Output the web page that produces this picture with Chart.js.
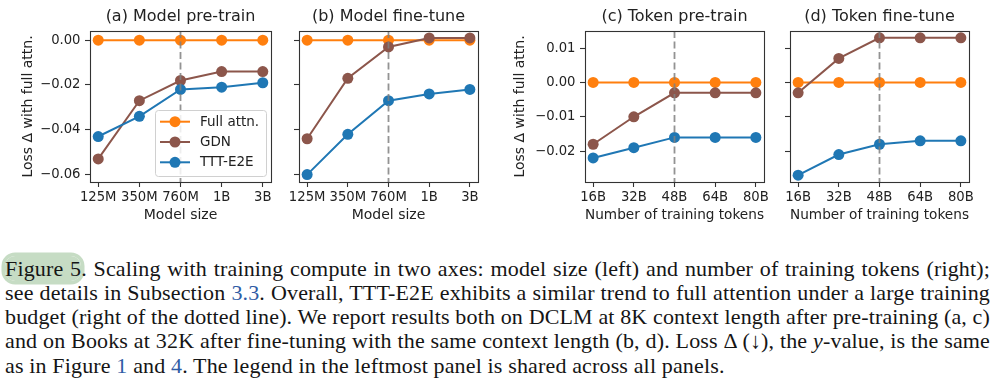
<!DOCTYPE html>
<html><head><meta charset="utf-8">
<script src="https://cdn.jsdelivr.net/npm/chart.js@4.4.1/dist/chart.umd.min.js"></script>
<style>
html,body{margin:0;padding:0;background:#fff;}
body{width:999px;height:381px;position:relative;overflow:hidden;}
canvas{position:absolute;top:0;}
#caption{position:absolute;left:5px;top:256.5px;width:985px;font-family:"Liberation Serif","Times New Roman",serif;font-size:22px;letter-spacing:0.15px;line-height:24.3px;color:#151515;}
.ln{white-space:nowrap;}
.hl{background:#c6dcc4;border-radius:10px;box-shadow:0 0 0 3.5px #c6dcc4;}
.lk{color:#2f5ca5;}
</style></head><body>
<canvas id="ca" width="285" height="230" style="left:0px"></canvas>
<canvas id="cb" width="205" height="230" style="left:280px"></canvas>
<canvas id="cc" width="275" height="230" style="left:500px"></canvas>
<canvas id="cd" width="215" height="230" style="left:770px"></canvas>
<div id="caption">
<div class="ln j"><span><span class="hl">Figure 5</span>. Scaling with training compute in two axes: model size (left) and number of training tokens (right);</span></div>
<div class="ln j"><span>see details in Subsection <span class="lk">3.3</span>. Overall, TTT-E2E exhibits a similar trend to full attention under a large training</span></div>
<div class="ln j"><span>budget (right of the dotted line). We report results both on DCLM at 8K context length after pre-training (a, c)</span></div>
<div class="ln j"><span>and on Books at 32K after fine-tuning with the same context length (b, d). Loss Δ (↓), the <i>y</i>-value, is the same</span></div>
<div class="ln"><span>as in Figure <span class="lk">1</span> and <span class="lk">4</span>. The legend in the leftmost panel is shared across all panels.</span></div>
</div>
<script>
// ---- data ----
const modelSizes = ['125M','350M','760M','1B','3B'];
const tokenCounts = ['16B','32B','48B','64B','80B'];
const seriesNames = ['Full attn.','GDN','TTT-E2E'];

const modelPretrainFull = [0, 0, 0, 0, 0];
const modelPretrainGDN  = [-0.053, -0.027, -0.018, -0.014, -0.014];
const modelPretrainTTT  = [-0.043, -0.034, -0.022, -0.021, -0.019];

const modelFinetuneFull = [0, 0, 0, 0, 0];
const modelFinetuneGDN  = [-0.044, -0.017, -0.003, 0.001, 0.001];
const modelFinetuneTTT  = [-0.060, -0.042, -0.027, -0.024, -0.022];

const tokenPretrainFull = [0, 0, 0, 0, 0];
const tokenPretrainGDN  = [-0.018, -0.010, -0.003, -0.003, -0.003];
const tokenPretrainTTT  = [-0.022, -0.019, -0.016, -0.016, -0.016];

const tokenFinetuneFull = [0, 0, 0, 0, 0];
const tokenFinetuneGDN  = [-0.003, 0.007, 0.013, 0.013, 0.013];
const tokenFinetuneTTT  = [-0.027, -0.021, -0.018, -0.017, -0.017];

const modelYTicks = [-0.06, -0.04, -0.02, 0.00];
const tokenYTicks = [-0.02, -0.01, 0.00, 0.01];
const modelYRange = [-0.0633, 0.0041];
const tokenYRange = [-0.029, 0.015];
const dividerIndex = 2;

// ---- styling ----
const COLORS = ['#ff7f0e', '#8c564b', '#1f77b4'];
const FONT = 'DejaVu Sans';
const TXT = '#222';
const AX = '#333';
const TICK_SIZE = 13.2, LABEL_SIZE = 14, TITLE_SIZE = 16, LEGEND_SIZE = 13.5;

function fmtTick(v){
  const s = Math.abs(v).toFixed(2);
  return v < -1e-9 ? '\u2212' + s : s;
}

const panelPlugin = {
  id: 'panelDeco',
  afterDatasetsDraw(chart){
    const {ctx, chartArea: ca, scales} = chart;
    const x = scales.x.getPixelForValue(dividerIndex);
    ctx.save();
    ctx.strokeStyle = 'rgba(128,128,128,0.85)';
    ctx.lineWidth = 1.8;
    ctx.setLineDash([7, 3.5]);
    ctx.beginPath();
    ctx.moveTo(x, ca.top);
    ctx.lineTo(x, ca.bottom);
    ctx.stroke();
    ctx.restore();
  },
  afterDraw(chart){
    const {ctx, chartArea: ca} = chart;
    ctx.save();
    ctx.strokeStyle = AX;
    ctx.lineWidth = 1.1;
    ctx.strokeRect(Math.round(ca.left)+0.5, Math.round(ca.top)+0.5, Math.round(ca.right-ca.left), Math.round(ca.bottom-ca.top));
    ctx.restore();
    const lg = chart.options.plugins.panelDeco && chart.options.plugins.panelDeco.legend;
    if (!lg) return;
    const w = 111, h = 66;
    const bx = ca.right - 5 - w, by = ca.bottom - 6 - h;
    ctx.save();
    ctx.beginPath();
    ctx.roundRect(bx + 0.5, by + 0.5, w, h, 3);
    ctx.fillStyle = 'rgba(255,255,255,0.85)';
    ctx.fill();
    ctx.strokeStyle = '#d0d0d0';
    ctx.lineWidth = 1;
    ctx.stroke();
    ctx.font = LEGEND_SIZE + 'px "' + FONT + '"';
    ctx.textBaseline = 'middle';
    chart.data.datasets.forEach((ds, i) => {
      const y = by + 11.7 + i * 20.3;
      ctx.strokeStyle = ds.borderColor;
      ctx.lineWidth = 2;
      ctx.beginPath();
      ctx.moveTo(bx + 5, y);
      ctx.lineTo(bx + 35, y);
      ctx.stroke();
      ctx.fillStyle = ds.borderColor;
      ctx.beginPath();
      ctx.arc(bx + 20, y, 5.5, 0, Math.PI * 2);
      ctx.fill();
      ctx.fillStyle = TXT;
      ctx.fillText(ds.label, bx + 45, y + 0.5);
    });
    ctx.restore();
  }
};

function makePanel(id, cfg){
  const series = [cfg.full, cfg.gdn, cfg.ttt];
  const datasets = series.map((arr, i) => ({
    label: seriesNames[i],
    data: arr.map((v, k) => ({x: k, y: v})),
    borderColor: COLORS[i],
    backgroundColor: COLORS[i],
    pointBackgroundColor: COLORS[i],
    pointBorderWidth: 0,
    pointRadius: 5.5,
    pointHoverRadius: 5.5,
    borderWidth: 2,
    tension: 0,
    order: 3 - i,
    clip: false
  }));
  return new Chart(document.getElementById(id), {
    type: 'line',
    data: {datasets},
    plugins: [panelPlugin],
    options: {
      responsive: false,
      animation: false,
      devicePixelRatio: 1,
      events: [],
      layout: {padding: {top: 0, left: 0, right: cfg.padRight, bottom: 0}},
      plugins: {
        legend: {display: false},
        tooltip: {enabled: false},
        title: {
          display: true, text: cfg.title, fullSize: false,
          color: TXT, font: {family: FONT, size: TITLE_SIZE, weight: 'normal', lineHeight: 1.2},
          padding: {top: 7, bottom: 4.8}
        },
        panelDeco: {legend: !!cfg.legend}
      },
      scales: {
        x: {
          type: 'linear', min: -0.2, max: 4.2,
          afterBuildTicks: s => { s.ticks = cfg.xLabels.map((_, i) => ({value: i})); },
          afterFit: s => { s.height = 48; },
          ticks: {
            autoSkip: false, maxRotation: 0, padding: 2.5,
            color: TXT, font: {family: FONT, size: TICK_SIZE},
            callback: v => cfg.xLabels[v] ?? ''
          },
          grid: {display: true, drawOnChartArea: false, drawTicks: true, tickLength: 5, tickWidth: 1.1, tickColor: AX},
          border: {display: false},
          title: {display: true, text: cfg.xTitle, color: TXT, font: {family: FONT, size: LABEL_SIZE}, padding: {top: 0, bottom: 6.6}}
        },
        y: {
          type: 'linear', min: cfg.yRange[0], max: cfg.yRange[1],
          afterBuildTicks: s => { s.ticks = cfg.yTicks.map(v => ({value: v})); },
          afterFit: s => { s.width = cfg.yWidth; },
          ticks: {
            padding: 4.5, color: TXT, font: {family: FONT, size: TICK_SIZE},
            callback: v => cfg.yLabels ? fmtTick(v) : ''
          },
          grid: {display: true, drawOnChartArea: false, drawTicks: true, tickLength: 5, tickWidth: 1.1, tickColor: AX},
          border: {display: false},
          title: {display: !!cfg.yTitle, text: cfg.yTitle || '', color: TXT, font: {family: FONT, size: LABEL_SIZE}, padding: {top: cfg.yTitlePad || 0, bottom: 0}}
        }
      }
    }
  });
}

makePanel('ca', {title: '(a) Model pre-train', xLabels: modelSizes, xTitle: 'Model size',
  full: modelPretrainFull, gdn: modelPretrainGDN, ttt: modelPretrainTTT,
  yTicks: modelYTicks, yRange: modelYRange, yLabels: true, yTitle: 'Loss \u0394 with full attn.', yTitlePad: 19.6,
  yWidth: 90, padRight: 14, legend: true});
makePanel('cb', {title: '(b) Model fine-tune', xLabels: modelSizes, xTitle: 'Model size',
  full: modelFinetuneFull, gdn: modelFinetuneGDN, ttt: modelFinetuneTTT,
  yTicks: modelYTicks, yRange: modelYRange, yLabels: false,
  yWidth: 19, padRight: 7});
makePanel('cc', {title: '(c) Token pre-train', xLabels: tokenCounts, xTitle: 'Number of training tokens',
  full: tokenPretrainFull, gdn: tokenPretrainGDN, ttt: tokenPretrainTTT,
  yTicks: tokenYTicks, yRange: tokenYRange, yLabels: true, yTitle: 'Loss \u0394 with full attn.', yTitlePad: 11.6,
  yWidth: 85, padRight: 11});
makePanel('cd', {title: '(d) Token fine-tune', xLabels: tokenCounts, xTitle: 'Number of training tokens',
  full: tokenFinetuneFull, gdn: tokenFinetuneGDN, ttt: tokenFinetuneTTT,
  yTicks: tokenYTicks, yRange: tokenYRange, yLabels: false,
  yWidth: 20, padRight: 16});

// justify caption lines
document.querySelectorAll('#caption .ln.j').forEach(el => {
  const span = el.firstElementChild;
  const w = span.getBoundingClientRect().width;
  const n = (span.textContent.match(/ /g) || []).length;
  if (n > 0) el.style.wordSpacing = ((985 - w) / n) + 'px';
});
</script>
</body></html>
